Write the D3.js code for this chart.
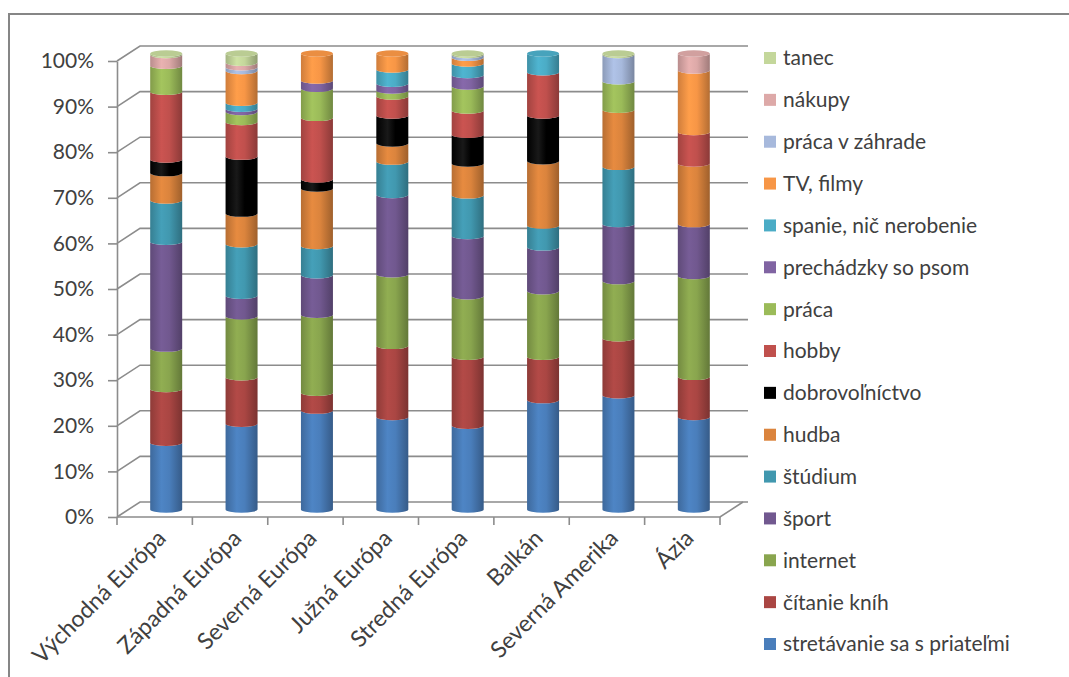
<!DOCTYPE html>
<head>
  <meta charset="utf-8">
  <script src="https://cdn.jsdelivr.net/npm/d3@7"></script>
  <style>
    body { margin: 0; background: white; }
    text { font-family: Lato, "Open Sans", sans-serif; fill: #404040; }
    .grid { fill: none; stroke: #8c8c8c; stroke-width: 1.6; }
  </style>
</head>

<body>
  <script>
const W = 1069;
const H = 677;

// categories (x)
const categories = ["Východná Európa", "Západná Európa", "Severná Európa", "Južná Európa",
  "Stredná Európa", "Balkán", "Severná Amerika", "Ázia"];

// series values, % of answers (bottom -> top)
const stretavanie   = [14.7, 18.8, 21.7, 20.3, 18.4, 24.0, 25.0, 20.3];
const citanie       = [11.8, 10.2,  3.9, 15.6, 15.1,  9.5, 12.5,  8.8];
const internet      = [ 8.9, 13.4, 17.1, 15.7, 13.3, 14.4, 12.5, 22.1];
const sport         = [23.5,  4.5,  8.7, 17.4, 13.2,  9.6, 12.5, 11.4];
const studium       = [ 9.1, 11.3,  6.4,  7.3,  8.9,  4.8, 12.5,  0];
const hudba         = [ 6.0,  6.7, 12.6,  4.0,  7.0, 14.1, 12.5, 13.3];
const dobrovolnictvo= [ 3.0, 12.5,  2.0,  6.1,  6.3, 10.0,  0,    0];
const hobby         = [14.9,  7.6, 13.5,  4.2,  5.3,  9.5,  0,    6.9];
const praca         = [ 5.7,  2.2,  6.4,  1.3,  5.3,  0,    6.25, 0];
const prechadzky    = [ 0,    0.7,  1.8,  1.5,  2.5,  0,    0,    0];
const spanie        = [ 0,    1.3,  0,    3.1,  2.5,  4.1,  0,    0];
const tv            = [ 0,    7.0,  5.9,  3.5,  1.3,  0,    0,   13.5];
const zahrada       = [ 0,    0.8,  0,    0,    0.6,  0,    5.75, 0];
const nakupy        = [ 2.4,  1.0,  0,    0,    0,    0,    0,    3.7];
const tanec         = [ 0.3,  2.0,  0,    0,    0.3,  0,    0.3,  0];

const seriesNames = ["stretávanie sa s priateľmi", "čítanie kníh", "internet", "šport", "štúdium",
  "hudba", "dobrovoľníctvo", "hobby", "práca", "prechádzky so psom", "spanie, nič nerobenie",
  "TV, filmy", "práca v záhrade", "nákupy", "tanec"];
const seriesValues = [stretavanie, citanie, internet, sport, studium, hudba, dobrovolnictvo,
  hobby, praca, prechadzky, spanie, tv, zahrada, nakupy, tanec];
const seriesColors = ["#4a7ebb", "#aa4643", "#89a54e", "#71588f", "#4198af", "#db843d", "#000000",
  "#c0504d", "#9bbb59", "#8064a2", "#4bacc6", "#f79646", "#a7b9dc", "#dda9a8", "#c4d79b"];

const yTicks = d3.range(0, 11).map(i => i / 10);

// build table for d3.stack
const table = categories.map((c, i) => {
  let row = { cat: c };
  seriesNames.forEach((s, j) => row[s] = seriesValues[j][i]);
  return row;
});

var svg = d3.select("body").append("svg")
  .attr("width", W)
  .attr("height", H);

// outer frame (only top and left are inside the picture)
svg.append("rect")
  .attr("x", 9).attr("y", 14)
  .attr("width", W + 20).attr("height", H + 20)
  .attr("fill", "none").attr("stroke", "#868686").attr("stroke-width", 2);

// 3d depth of the plot box
const DX = 23, DY = -15;

var x = d3.scaleBand()
  .domain(categories)
  .range([117, 720])
  .paddingInner(0).paddingOuter(0);

var y = d3.scaleLinear()
  .domain([0, 1])
  .range([517, 61]);

// gridlines: diagonal on the side wall + horizontal on back wall
var grid = svg.append("g");
yTicks.forEach(t => {
  grid.append("path")
    .attr("class", "grid")
    .attr("d", `M${x.range()[0]},${y(t)} L${x.range()[0] + DX},${y(t) + DY} L${x.range()[1] + DX + 5},${y(t) + DY}`);
});
// floor front edge + right edge
svg.append("path")
  .attr("class", "grid")
  .attr("d", `M${x.range()[0]},${y(0)} L${x.range()[1]},${y(0)} L${x.range()[1] + DX},${y(0) + DY}`);

// y axis
var yaxis = d3.axisLeft(y)
  .tickValues(yTicks)
  .tickFormat(d3.format(".0%"))
  .tickSize(9)
  .tickSizeOuter(0);
var yg = svg.append("g")
  .attr("transform", "translate(117,0)")
  .call(yaxis);
yg.select(".domain").attr("stroke", "#8c8c8c").attr("stroke-width", 1.6);
yg.selectAll(".tick line").attr("stroke", "#8c8c8c").attr("stroke-width", 1.6);
yg.selectAll(".tick text")
  .attr("x", -23)
  .style("font-size", "21px")
  .style("font-family", "Lato, sans-serif")
  .attr("fill", "#404040");

// x ticks at category boundaries
const bounds = categories.map(c => x(c)).concat([x.range()[1]]);
svg.selectAll("line.xtick").data(bounds).enter()
  .append("line")
  .attr("class", "grid")
  .attr("x1", d => d).attr("x2", d => d)
  .attr("y1", y(0)).attr("y2", y(0) + 8);

// x labels
svg.selectAll("text.xlab").data(categories).enter()
  .append("text")
  .attr("class", "xlab")
  .attr("text-anchor", "end")
  .style("font-size", "23px")
  .attr("transform", d => `translate(${x(d) + x.bandwidth() / 2 + 7},${y(0) + 17}) rotate(-45)`)
  .attr("dy", "0.35em")
  .text(d => d);

// cylinders
const stack = d3.stack()
  .keys(seriesNames)
  .offset(d3.stackOffsetExpand);
const stacked = stack(table);

const defs = svg.append("defs");
seriesColors.forEach((c, j) => {
  let base = d3.color(c);
  let g = defs.append("linearGradient")
    .attr("id", "cyl" + j)
    .attr("x1", "0").attr("x2", "1").attr("y1", "0").attr("y2", "0");
  let dark = base.darker(0.9), mid = base.brighter(0.15), edge = base.darker(0.5);
  if (c === "#000000") { dark = d3.rgb(0, 0, 0); mid = d3.rgb(25, 25, 25); edge = d3.rgb(0, 0, 0); }
  g.append("stop").attr("offset", "0%").attr("stop-color", edge);
  g.append("stop").attr("offset", "35%").attr("stop-color", mid);
  g.append("stop").attr("offset", "60%").attr("stop-color", base);
  g.append("stop").attr("offset", "100%").attr("stop-color", dark);
});

const RX = 16, RY = 3.3;
const cx = c => x(c) + x.bandwidth() / 2 + DX / 2;
const cy = v => y(v) + DY / 2;

function segPath(c, v0, v1) {
  let l = cx(c) - RX, r = cx(c) + RX;
  let yb = cy(v0), yt = cy(v1);
  return `M${l},${yt} L${l},${yb} A${RX},${RY} 0 0 0 ${r},${yb} L${r},${yt} A${RX},${RY} 0 0 1 ${l},${yt} Z`;
}

var bars = svg.append("g");
stacked.forEach((s, j) => {
  bars.selectAll(null)
    .data(s.filter(d => d[1] - d[0] > 0))
    .enter()
    .append("path")
    .attr("d", d => segPath(d.data.cat, d[0], d[1]))
    .attr("fill", `url(#cyl${j})`);
});

// top caps: colour of the topmost segment
categories.forEach((c, i) => {
  let top = 0;
  seriesValues.forEach((v, j) => { if (v[i] > 0) top = j; });
  bars.append("ellipse")
    .attr("cx", cx(c)).attr("cy", cy(1))
    .attr("rx", RX).attr("ry", RY)
    .attr("fill", d3.color(seriesColors[top]).darker(0.15));
});

// legend (top series first)
var legend = svg.append("g");
const legendItems = seriesNames.map((s, j) => ({ name: s, color: seriesColors[j] })).reverse();
var ly = d3.scalePoint()
  .domain(legendItems.map(d => d.name))
  .range([58, 644]);
var li = legend.selectAll("g").data(legendItems).enter()
  .append("g")
  .attr("transform", d => `translate(764,${ly(d.name)})`);
li.append("rect")
  .attr("x", 0).attr("y", -6)
  .attr("width", 12).attr("height", 12)
  .attr("fill", d => d.color);
li.append("text")
  .attr("x", 19)
  .attr("dy", "0.35em")
  .style("font-size", "21px")
  .text(d => d.name);
  </script>
</body>
